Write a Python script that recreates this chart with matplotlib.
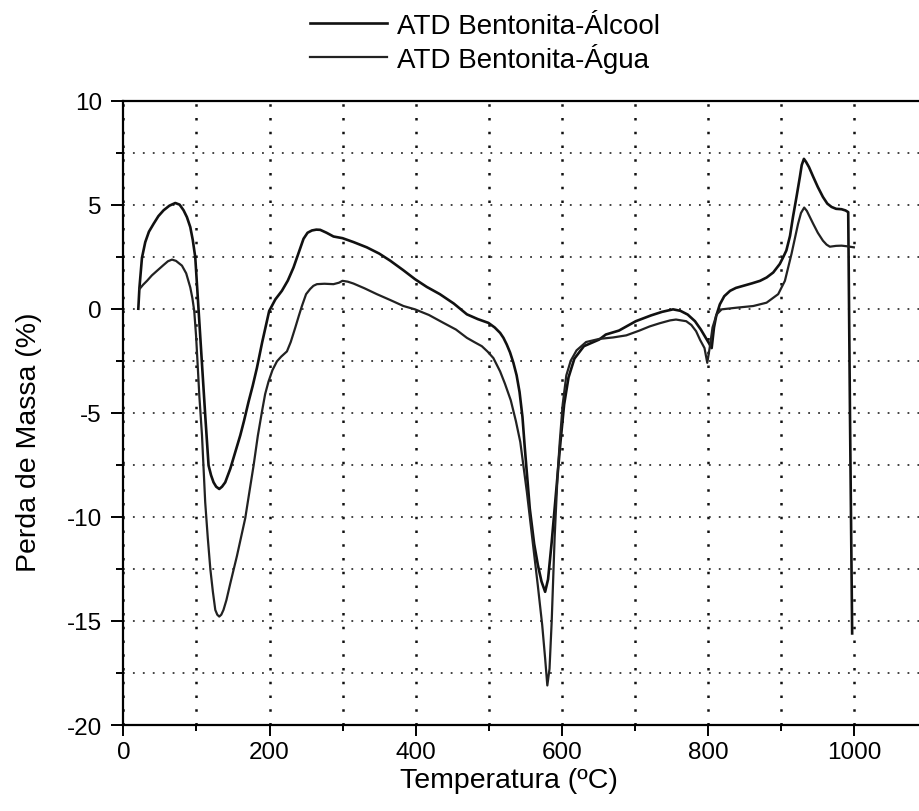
import matplotlib.pyplot as plt
from matplotlib.ticker import MultipleLocator

plt.rcParams['font.family'] = ['Liberation Sans', 'DejaVu Sans']
plt.rcParams['axes.unicode_minus'] = False

# ATD Bentonita-Álcool (curva superior)
temp_alcool = [20.5, 22, 25.5, 30, 35, 41.4, 48, 55.1, 63, 71.1, 77, 82.4, 87, 91.6,
               95, 98.4, 100.5, 103, 107.6, 112.1, 116.6, 120, 123.4, 127, 131.2, 135,
               139.4, 146.3, 153, 160, 165, 171.3, 177, 182.7, 190, 199.5, 208, 216.9,
               225, 232.8, 240, 246.5, 252, 258, 264, 269.3, 278, 287.5, 299.8, 315,
               333, 350, 365, 383, 399, 415, 433, 452, 470, 485, 499.4, 508, 515.4,
               520, 524.5, 529, 533.6, 538, 542, 546, 549, 556, 562, 567, 572, 577,
               581, 586, 592, 598, 603, 609, 617, 630, 651, 660, 678, 701, 722, 737,
               752, 762, 772, 782, 790, 796, 801, 804.8, 808, 811, 816, 822, 830, 838,
               848, 860, 871, 880, 889, 898, 903, 907, 912, 916, 921, 925.5, 928, 931,
               934, 938, 943.7, 950, 957, 963, 968.8, 975, 982.5, 988, 991.6, 994, 997]
massa_alcool = [0.0, 1.0, 2.45, 3.2, 3.7, 4.08, 4.45, 4.73, 4.95, 5.08, 5.0, 4.73, 4.4, 3.92,
                3.3, 2.47, 1.3, -0.11, -2.64, -5.16, -7.53, -8.0, -8.34, -8.55, -8.66, -8.55,
                -8.34, -7.69, -6.9, -6.08, -5.4, -4.47, -3.7, -2.85, -1.6, -0.11, 0.45, 0.86,
                1.35, 1.98, 2.7, 3.36, 3.65, 3.76, 3.8, 3.79, 3.65, 3.47, 3.39, 3.2,
                2.95, 2.65, 2.31, 1.85, 1.42, 1.05, 0.7, 0.25, -0.27, -0.5, -0.68, -0.9, -1.16,
                -1.4, -1.72, -2.1, -2.6, -3.2, -4.0, -5.2, -6.6, -9.6, -11.3, -12.3, -13.1, -13.6,
                -13.0, -11.2, -8.8, -6.4, -4.6, -3.3, -2.4, -1.8, -1.48, -1.24, -1.05, -0.6, -0.32, -0.15,
                -0.03, -0.1, -0.28, -0.6, -1.0, -1.35, -1.65, -1.89, -0.9, -0.35, 0.21, 0.6, 0.86, 1.0,
                1.1, 1.22, 1.34, 1.5, 1.74, 2.15, 2.5, 2.8, 3.5, 4.4, 5.4, 6.34, 6.9, 7.2,
                7.05, 6.8, 6.34, 5.85, 5.37, 5.05, 4.89, 4.8, 4.78, 4.72, 4.64, -5.0, -15.6]

# ATD Bentonita-Água (curva inferior)
temp_agua = [22, 27, 32.4, 39, 46, 55, 61, 66.5, 72, 80.2, 86, 91.6, 94.5, 97, 99.5,
             101.6, 104, 107.6, 112, 115.5, 119, 122.5, 125.8, 128.5, 131.2, 134, 137,
             141, 146.3, 155.4, 166.8, 172, 178.2, 184, 189.6, 194, 198.6, 204, 210.1,
             216, 223.8, 229, 235.1, 240, 244.3, 250, 255.6, 260, 264.8, 275, 287.5, 295,
             299.8, 307, 314.8, 330, 346.8, 365, 383.2, 399, 418, 437.9, 455, 470, 480,
             490.4, 498, 506.2, 515.4, 522, 530, 537, 543, 552, 560, 567, 573, 577, 580,
             583, 586, 590, 594, 597, 601, 606, 612, 620, 633, 651, 670, 688, 706, 720,
             733.5, 748, 756, 770, 777, 783.5, 789, 795, 798.8, 802, 806, 811.6, 818.5,
             839, 861.7, 879.9, 895.8, 905, 914, 923, 927, 931.4, 935, 943.7, 950, 957,
             962, 966.5, 975, 982.5, 990, 999.3]
massa_agua = [0.94, 1.15, 1.34, 1.6, 1.82, 2.1, 2.28, 2.36, 2.3, 2.07, 1.7, 1.02, 0.5, -0.11, -1.3,
              -2.64, -4.2, -6.08, -9.3, -11.0, -12.5, -13.6, -14.47, -14.7, -14.79, -14.7, -14.47,
              -14.0, -13.2, -11.88, -10.06, -8.9, -7.53, -6.1, -4.95, -4.1, -3.5, -2.95, -2.53,
              -2.3, -2.05, -1.6, -0.92, -0.35, 0.13, 0.7, 0.95, 1.1, 1.18, 1.2, 1.18, 1.25,
              1.34, 1.3, 1.21, 0.98, 0.7, 0.42, 0.13, -0.03, -0.3, -0.68, -1.0, -1.4, -1.6,
              -1.8, -2.05, -2.37, -3.01, -3.6, -4.4, -5.4, -6.4, -8.8, -11.2, -13.3, -15.2, -16.8, -18.1,
              -17.3, -15.0, -11.0, -8.0, -6.4, -4.6, -3.2, -2.5, -2.0, -1.6, -1.45, -1.38, -1.28, -1.05, -0.85,
              -0.7, -0.56, -0.52, -0.6, -0.78, -1.08, -1.5, -1.89, -2.6, -1.9, -0.9, -0.27, -0.03,
              0.05, 0.13, 0.29, 0.7, 1.34, 2.63, 4.08, 4.6, 4.86, 4.7, 4.08, 3.65, 3.27,
              3.08, 2.98, 3.02, 3.03, 3.0, 2.95]

fig = plt.figure(figsize=(9.19, 8.12), dpi=100)
# o eixo continua além da borda direita, como na figura original
ax = fig.add_axes([0.1342, 0.1059, 0.875, 0.769])

ax.plot(temp_alcool, massa_alcool, color='#111111', lw=1.9, label='ATD Bentonita-Álcool')
ax.plot(temp_agua, massa_agua, color='#222222', lw=1.6, label='ATD Bentonita-Água')

ax.set_xlim(0, 1100)
ax.set_ylim(-20, 10)
ax.xaxis.set_major_locator(MultipleLocator(200))
ax.xaxis.set_minor_locator(MultipleLocator(100))
ax.yaxis.set_major_locator(MultipleLocator(5))
ax.yaxis.set_minor_locator(MultipleLocator(2.5))

ax.grid(which='both', axis='x', color='#111111', lw=1.8, linestyle=(0, (1, 4.5)))
ax.grid(which='both', axis='y', color='#333333', lw=1.3, linestyle=(0, (1, 4.5)))

for s in ax.spines.values():
    s.set_linewidth(1.6)

ax.tick_params(axis='x', which='major', direction='out', length=8, width=1.4, labelsize=17.5, pad=3.5)
ax.tick_params(axis='x', which='minor', direction='out', length=4, width=1.4)
ax.tick_params(axis='y', which='major', direction='out', length=9, width=1.4, labelsize=17.5, pad=6.5)
ax.tick_params(axis='y', which='minor', direction='out', length=5, width=1.4)

ax.set_xlabel('Temperatura (ºC)', fontsize=20.5)
ax.xaxis.set_label_coords(0.48, -0.0665)
ax.set_ylabel('Perda de Massa (%)', fontsize=20.5)
ax.yaxis.set_label_coords(-0.101, 0.455)

fig.legend(loc='upper left', bbox_to_anchor=(310 / 919, 1 - 14 / 812), frameon=False,
           fontsize=20, handlelength=2.77, handletextpad=0.36, labelspacing=0.15,
           borderpad=0, borderaxespad=0)

fig.savefig('out.png', dpi=100)
